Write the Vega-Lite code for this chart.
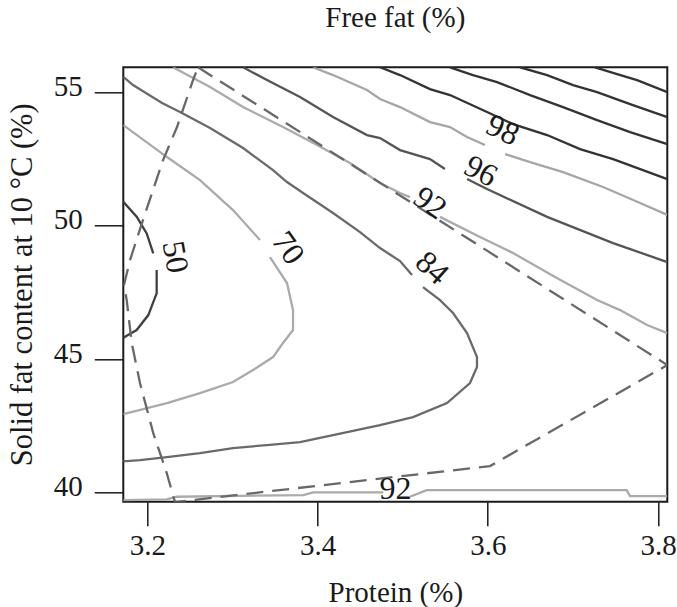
{
  "$schema": "https://vega.github.io/schema/vega-lite/v6.json",
  "width": 544,
  "height": 434.4,
  "autosize": "none",
  "padding": {"left": 123.3, "top": 67.3, "right": 9.7, "bottom": 105.3},
  "background": "white",
  "config": {
    "font": "Liberation Serif",
    "view": {"stroke": "#1a1a1a", "strokeWidth": 2}
  },
  "title": {
    "text": "Free fat (%)",
    "anchor": "middle",
    "frame": "group",
    "fontSize": 29,
    "fontWeight": "normal",
    "font": "Liberation Serif",
    "color": "#1a1a1a",
    "baseline": "alphabetic",
    "offset": 11
  },
  "datasets": {
    "contours": [
      {"level": "u4", "segment": "u4", "protein": 3.7260, "sfc": 55.94},
      {"level": "u4", "segment": "u4", "protein": 3.7519, "sfc": 55.686},
      {"level": "u4", "segment": "u4", "protein": 3.7754, "sfc": 55.461},
      {"level": "u4", "segment": "u4", "protein": 3.8109, "sfc": 55.011},

      {"level": "u3", "segment": "u3", "protein": 3.6379, "sfc": 55.94},
      {"level": "u3", "segment": "u3", "protein": 3.6697, "sfc": 55.649},
      {"level": "u3", "segment": "u3", "protein": 3.7002, "sfc": 55.274},
      {"level": "u3", "segment": "u3", "protein": 3.7284, "sfc": 55.011},
      {"level": "u3", "segment": "u3", "protein": 3.7672, "sfc": 54.561},
      {"level": "u3", "segment": "u3", "protein": 3.8109, "sfc": 54.074},

      {"level": "u2", "segment": "u2", "protein": 3.5556, "sfc": 55.94},
      {"level": "u2", "segment": "u2", "protein": 3.5826, "sfc": 55.649},
      {"level": "u2", "segment": "u2", "protein": 3.6109, "sfc": 55.386},
      {"level": "u2", "segment": "u2", "protein": 3.6497, "sfc": 54.899},
      {"level": "u2", "segment": "u2", "protein": 3.6884, "sfc": 54.449},
      {"level": "u2", "segment": "u2", "protein": 3.7284, "sfc": 53.961},
      {"level": "u2", "segment": "u2", "protein": 3.7672, "sfc": 53.511},
      {"level": "u2", "segment": "u2", "protein": 3.8109, "sfc": 53.061},

      {"level": "u1", "segment": "u1", "protein": 3.4734, "sfc": 55.94},
      {"level": "u1", "segment": "u1", "protein": 3.4969, "sfc": 55.649},
      {"level": "u1", "segment": "u1", "protein": 3.5321, "sfc": 55.124},
      {"level": "u1", "segment": "u1", "protein": 3.5556, "sfc": 54.899},
      {"level": "u1", "segment": "u1", "protein": 3.5991, "sfc": 54.261},
      {"level": "u1", "segment": "u1", "protein": 3.6297, "sfc": 53.811},
      {"level": "u1", "segment": "u1", "protein": 3.6697, "sfc": 53.399},
      {"level": "u1", "segment": "u1", "protein": 3.7084, "sfc": 52.874},
      {"level": "u1", "segment": "u1", "protein": 3.7472, "sfc": 52.499},
      {"level": "u1", "segment": "u1", "protein": 3.8109, "sfc": 51.749},

      {"level": "98", "segment": "98a", "protein": 3.3947, "sfc": 55.94},
      {"level": "98", "segment": "98a", "protein": 3.4182, "sfc": 55.649},
      {"level": "98", "segment": "98a", "protein": 3.4581, "sfc": 55.086},
      {"level": "98", "segment": "98a", "protein": 3.4734, "sfc": 54.749},
      {"level": "98", "segment": "98a", "protein": 3.4969, "sfc": 54.449},
      {"level": "98", "segment": "98a", "protein": 3.5321, "sfc": 53.886},
      {"level": "98", "segment": "98a", "protein": 3.5556, "sfc": 53.699},
      {"level": "98", "segment": "98a", "protein": 3.5756, "sfc": 53.324},
      {"level": "98", "segment": "98a", "protein": 3.5967, "sfc": 53.024},
      {"level": "98", "segment": "98b", "protein": 3.6203, "sfc": 52.686},
      {"level": "98", "segment": "98b", "protein": 3.6497, "sfc": 52.386},
      {"level": "98", "segment": "98b", "protein": 3.6884, "sfc": 52.011},
      {"level": "98", "segment": "98b", "protein": 3.7354, "sfc": 51.45},
      {"level": "98", "segment": "98b", "protein": 3.7789, "sfc": 50.849},
      {"level": "98", "segment": "98b", "protein": 3.8109, "sfc": 50.406},

      {"level": "96", "segment": "96a", "protein": 3.3125, "sfc": 55.94},
      {"level": "96", "segment": "96a", "protein": 3.3406, "sfc": 55.461},
      {"level": "96", "segment": "96a", "protein": 3.3794, "sfc": 54.824},
      {"level": "96", "segment": "96a", "protein": 3.4182, "sfc": 54.074},
      {"level": "96", "segment": "96a", "protein": 3.4581, "sfc": 53.399},
      {"level": "96", "segment": "96a", "protein": 3.4734, "sfc": 53.286},
      {"level": "96", "segment": "96a", "protein": 3.4969, "sfc": 52.836},
      {"level": "96", "segment": "96a", "protein": 3.5321, "sfc": 52.499},
      {"level": "96", "segment": "96a", "protein": 3.5497, "sfc": 52.124},
      {"level": "96", "segment": "96b", "protein": 3.5756, "sfc": 51.749},
      {"level": "96", "segment": "96b", "protein": 3.5991, "sfc": 51.374},
      {"level": "96", "segment": "96b", "protein": 3.6697, "sfc": 50.331},
      {"level": "96", "segment": "96b", "protein": 3.7472, "sfc": 49.349},
      {"level": "96", "segment": "96b", "protein": 3.8109, "sfc": 48.636},

      {"level": "92", "segment": "92a", "protein": 3.2302, "sfc": 55.94},
      {"level": "92", "segment": "92a", "protein": 3.2737, "sfc": 55.199},
      {"level": "92", "segment": "92a", "protein": 3.3125, "sfc": 54.449},
      {"level": "92", "segment": "92a", "protein": 3.3594, "sfc": 53.699},
      {"level": "92", "segment": "92a", "protein": 3.3994, "sfc": 53.024},
      {"level": "92", "segment": "92a", "protein": 3.4381, "sfc": 52.349},
      {"level": "92", "segment": "92a", "protein": 3.4734, "sfc": 51.599},
      {"level": "92", "segment": "92a", "protein": 3.4969, "sfc": 51.224},
      {"level": "92", "segment": "92a", "protein": 3.5086, "sfc": 51.07},
      {"level": "92", "segment": "92b", "protein": 3.5439, "sfc": 50.331},
      {"level": "92", "segment": "92b", "protein": 3.5908, "sfc": 49.574},
      {"level": "92", "segment": "92b", "protein": 3.6297, "sfc": 48.974},
      {"level": "92", "segment": "92b", "protein": 3.6790, "sfc": 48.074},
      {"level": "92", "segment": "92b", "protein": 3.7284, "sfc": 47.211},
      {"level": "92", "segment": "92b", "protein": 3.7554, "sfc": 46.836},
      {"level": "92", "segment": "92b", "protein": 3.7872, "sfc": 46.274},
      {"level": "92", "segment": "92b", "protein": 3.8109, "sfc": 45.974},

      {"level": "92", "segment": "92c", "protein": 3.1718, "sfc": 39.711},
      {"level": "92", "segment": "92c", "protein": 3.2228, "sfc": 39.738},
      {"level": "92", "segment": "92c", "protein": 3.2345, "sfc": 39.835},
      {"level": "92", "segment": "92c", "protein": 3.3833, "sfc": 39.899},
      {"level": "92", "segment": "92c", "protein": 3.3950, "sfc": 40.0},
      {"level": "92", "segment": "92c", "protein": 3.4773, "sfc": 40.0},
      {"level": "92", "segment": "92d", "protein": 3.5086, "sfc": 39.835},
      {"level": "92", "segment": "92d", "protein": 3.5282, "sfc": 40.086},
      {"level": "92", "segment": "92d", "protein": 3.7632, "sfc": 40.086},
      {"level": "92", "segment": "92d", "protein": 3.7671, "sfc": 39.861},
      {"level": "92", "segment": "92d", "protein": 3.8109, "sfc": 39.861},

      {"level": "84", "segment": "84a", "protein": 3.1718, "sfc": 55.585},
      {"level": "84", "segment": "84a", "protein": 3.1832, "sfc": 55.274},
      {"level": "84", "segment": "84a", "protein": 3.2173, "sfc": 54.599},
      {"level": "84", "segment": "84a", "protein": 3.2384, "sfc": 54.261},
      {"level": "84", "segment": "84a", "protein": 3.2737, "sfc": 53.661},
      {"level": "84", "segment": "84a", "protein": 3.3125, "sfc": 52.911},
      {"level": "84", "segment": "84a", "protein": 3.3477, "sfc": 52.086},
      {"level": "84", "segment": "84a", "protein": 3.3641, "sfc": 51.636},
      {"level": "84", "segment": "84a", "protein": 3.3830, "sfc": 51.224},
      {"level": "84", "segment": "84a", "protein": 3.4182, "sfc": 50.474},
      {"level": "84", "segment": "84a", "protein": 3.4499, "sfc": 49.761},
      {"level": "84", "segment": "84a", "protein": 3.4734, "sfc": 49.161},
      {"level": "84", "segment": "84a", "protein": 3.4969, "sfc": 48.674},
      {"level": "84", "segment": "84a", "protein": 3.5110, "sfc": 48.149},
      {"level": "84", "segment": "84b", "protein": 3.5239, "sfc": 47.699},
      {"level": "84", "segment": "84b", "protein": 3.5439, "sfc": 47.211},
      {"level": "84", "segment": "84b", "protein": 3.5592, "sfc": 46.724},
      {"level": "84", "segment": "84b", "protein": 3.5756, "sfc": 45.974},
      {"level": "84", "segment": "84b", "protein": 3.5873, "sfc": 45.074},
      {"level": "84", "segment": "84b", "protein": 3.5873, "sfc": 44.699},
      {"level": "84", "segment": "84b", "protein": 3.5791, "sfc": 44.099},
      {"level": "84", "segment": "84b", "protein": 3.5521, "sfc": 43.349},
      {"level": "84", "segment": "84b", "protein": 3.5122, "sfc": 42.824},
      {"level": "84", "segment": "84b", "protein": 3.4734, "sfc": 42.524},
      {"level": "84", "segment": "84b", "protein": 3.4182, "sfc": 42.149},
      {"level": "84", "segment": "84b", "protein": 3.3794, "sfc": 41.886},
      {"level": "84", "segment": "84b", "protein": 3.3406, "sfc": 41.774},
      {"level": "84", "segment": "84b", "protein": 3.3007, "sfc": 41.661},
      {"level": "84", "segment": "84b", "protein": 3.2619, "sfc": 41.474},
      {"level": "84", "segment": "84b", "protein": 3.2231, "sfc": 41.324},
      {"level": "84", "segment": "84b", "protein": 3.1914, "sfc": 41.211},
      {"level": "84", "segment": "84b", "protein": 3.1761, "sfc": 41.174},
      {"level": "84", "segment": "84b", "protein": 3.1718, "sfc": 41.174},

      {"level": "70", "segment": "70a", "protein": 3.1718, "sfc": 53.774},
      {"level": "70", "segment": "70a", "protein": 3.2231, "sfc": 52.574},
      {"level": "70", "segment": "70a", "protein": 3.2619, "sfc": 51.711},
      {"level": "70", "segment": "70a", "protein": 3.3007, "sfc": 50.586},
      {"level": "70", "segment": "70a", "protein": 3.3324, "sfc": 49.461},
      {"level": "70", "segment": "70b", "protein": 3.3441, "sfc": 48.824},
      {"level": "70", "segment": "70b", "protein": 3.3641, "sfc": 47.849},
      {"level": "70", "segment": "70b", "protein": 3.3712, "sfc": 46.836},
      {"level": "70", "segment": "70b", "protein": 3.3712, "sfc": 46.086},
      {"level": "70", "segment": "70b", "protein": 3.3594, "sfc": 45.599},
      {"level": "70", "segment": "70b", "protein": 3.3477, "sfc": 45.074},
      {"level": "70", "segment": "70b", "protein": 3.3242, "sfc": 44.586},
      {"level": "70", "segment": "70b", "protein": 3.3007, "sfc": 44.136},
      {"level": "70", "segment": "70b", "protein": 3.2619, "sfc": 43.724},
      {"level": "70", "segment": "70b", "protein": 3.2231, "sfc": 43.349},
      {"level": "70", "segment": "70b", "protein": 3.1718, "sfc": 42.936},

      {"level": "50", "segment": "50a", "protein": 3.1718, "sfc": 50.897},
      {"level": "50", "segment": "50a", "protein": 3.1875, "sfc": 50.335},
      {"level": "50", "segment": "50a", "protein": 3.1993, "sfc": 49.712},
      {"level": "50", "segment": "50a", "protein": 3.2070, "sfc": 48.962},
      {"level": "50", "segment": "50b", "protein": 3.2110, "sfc": 48.336},
      {"level": "50", "segment": "50b", "protein": 3.2110, "sfc": 47.462},
      {"level": "50", "segment": "50b", "protein": 3.2070, "sfc": 47.136},
      {"level": "50", "segment": "50b", "protein": 3.2012, "sfc": 46.649},
      {"level": "50", "segment": "50b", "protein": 3.1875, "sfc": 46.086},
      {"level": "50", "segment": "50b", "protein": 3.1738, "sfc": 45.835},
      {"level": "50", "segment": "50b", "protein": 3.1718, "sfc": 45.786}
    ],
    "boundary": [
      {"protein": 3.2596, "sfc": 55.94},
      {"protein": 3.8109, "sfc": 44.774},
      {"protein": 3.6026, "sfc": 40.986},
      {"protein": 3.2325, "sfc": 39.636},
      {"protein": 3.2228, "sfc": 40.724},
      {"protein": 3.2070, "sfc": 42.224},
      {"protein": 3.1914, "sfc": 44.099},
      {"protein": 3.1817, "sfc": 45.599},
      {"protein": 3.1758, "sfc": 47.211},
      {"protein": 3.1726, "sfc": 47.774},
      {"protein": 3.1797, "sfc": 48.711},
      {"protein": 3.1949, "sfc": 50.211},
      {"protein": 3.2185, "sfc": 52.461},
      {"protein": 3.2349, "sfc": 53.699},
      {"protein": 3.2537, "sfc": 55.461},
      {"protein": 3.2596, "sfc": 55.94}
    ],
    "labels": [
      {"name": "98", "text": "98", "protein": 3.6176, "sfc": 53.586},
      {"name": "96", "text": "96", "protein": 3.5918, "sfc": 52.049},
      {"name": "92 upper", "text": "92", "protein": 3.5321, "sfc": 50.849},
      {"name": "84", "text": "84", "protein": 3.5345, "sfc": 48.411},
      {"name": "70", "text": "70", "protein": 3.3653, "sfc": 49.161},
      {"name": "50", "text": "50", "protein": 3.2326, "sfc": 48.824},
      {"name": "92 lower", "text": "92", "protein": 3.4915, "sfc": 40.142}
    ]
  },
  "encoding": {
    "x": {
      "field": "protein",
      "type": "quantitative",
      "scale": {"domain": [3.1718, 3.8109], "nice": false, "zero": false},
      "axis": {
        "values": [3.2, 3.4, 3.6, 3.8],
        "format": ".1f",
        "domain": false,
        "grid": false,
        "tickSize": 24,
        "tickWidth": 1.5,
        "tickColor": "#1a1a1a",
        "labelFont": "Liberation Serif",
        "labelFontSize": 29,
        "labelColor": "#1a1a1a",
        "labelBaseline": "alphabetic",
        "labelPadding": 29,
        "labelFlush": false,
        "labelOverlap": false,
        "labelBound": false,
        "title": "Protein (%)",
        "titleFont": "Liberation Serif",
        "titleFontSize": 29,
        "titleFontWeight": "normal",
        "titleColor": "#1a1a1a",
        "titleBaseline": "alphabetic",
        "titleAlign": "center",
        "titleX": 272,
        "titleY": 99.7
      }
    },
    "y": {
      "field": "sfc",
      "type": "quantitative",
      "scale": {"domain": [39.65, 55.94], "nice": false, "zero": false},
      "axis": {
        "values": [40, 45, 50, 55],
        "format": "d",
        "domain": false,
        "grid": false,
        "tickSize": 29,
        "tickWidth": 1.5,
        "tickColor": "#1a1a1a",
        "labelFont": "Liberation Serif",
        "labelFontSize": 29,
        "labelColor": "#1a1a1a",
        "labelBaseline": "alphabetic",
        "labelOffset": 3,
        "labelPadding": 12,
        "labelFlush": false,
        "labelOverlap": false,
        "labelBound": false,
        "title": "Solid fat content at 10 °C (%)",
        "titleFont": "Liberation Serif",
        "titleFontSize": 30.5,
        "titleFontWeight": "normal",
        "titleColor": "#1a1a1a",
        "titleAngle": -90,
        "titleBaseline": "alphabetic",
        "titleAlign": "center",
        "titleX": -92,
        "titleY": 217
      }
    }
  },
  "layer": [
    {
      "data": {"name": "contours"},
      "mark": {"type": "line", "strokeWidth": 2.3, "clip": true},
      "encoding": {
        "color": {
          "field": "level",
          "type": "nominal",
          "scale": {
            "domain": ["u4", "u3", "u2", "u1", "98", "96", "92", "84", "70", "50"],
            "range": ["#333333", "#333333", "#333333", "#333333", "#a6a6a6", "#555555", "#aaaaaa", "#6a6a6a", "#aaaaaa", "#404040"]
          },
          "legend": null
        },
        "detail": {"field": "segment"},
        "order": {"value": null}
      }
    },
    {
      "data": {"name": "boundary"},
      "mark": {"type": "line", "strokeWidth": 2.3, "color": "#686868", "strokeDash": [17, 9], "clip": true},
      "encoding": {"order": {"value": null}}
    },
    {
      "data": {"name": "labels"},
      "transform": [{"filter": "datum.name === '98'"}],
      "mark": {"type": "text", "angle": 25, "fontSize": 32, "font": "Liberation Serif", "color": "#1a1a1a", "align": "center", "baseline": "middle"},
      "encoding": {"text": {"field": "text"}}
    },
    {
      "data": {"name": "labels"},
      "transform": [{"filter": "datum.name === '96'"}],
      "mark": {"type": "text", "angle": 28, "fontSize": 32, "font": "Liberation Serif", "color": "#1a1a1a", "align": "center", "baseline": "middle"},
      "encoding": {"text": {"field": "text"}}
    },
    {
      "data": {"name": "labels"},
      "transform": [{"filter": "datum.name === '92 upper'"}],
      "mark": {"type": "text", "angle": 35, "fontSize": 32, "font": "Liberation Serif", "color": "#1a1a1a", "align": "center", "baseline": "middle"},
      "encoding": {"text": {"field": "text"}}
    },
    {
      "data": {"name": "labels"},
      "transform": [{"filter": "datum.name === '84'"}],
      "mark": {"type": "text", "angle": 42, "fontSize": 32, "font": "Liberation Serif", "color": "#1a1a1a", "align": "center", "baseline": "middle"},
      "encoding": {"text": {"field": "text"}}
    },
    {
      "data": {"name": "labels"},
      "transform": [{"filter": "datum.name === '70'"}],
      "mark": {"type": "text", "angle": 55, "fontSize": 32, "font": "Liberation Serif", "color": "#1a1a1a", "align": "center", "baseline": "middle"},
      "encoding": {"text": {"field": "text"}}
    },
    {
      "data": {"name": "labels"},
      "transform": [{"filter": "datum.name === '50'"}],
      "mark": {"type": "text", "angle": 80, "fontSize": 32, "font": "Liberation Serif", "color": "#1a1a1a", "align": "center", "baseline": "middle"},
      "encoding": {"text": {"field": "text"}}
    },
    {
      "data": {"name": "labels"},
      "transform": [{"filter": "datum.name === '92 lower'"}],
      "mark": {"type": "text", "angle": 0, "fontSize": 32, "font": "Liberation Serif", "color": "#1a1a1a", "align": "center", "baseline": "middle"},
      "encoding": {"text": {"field": "text"}}
    }
  ]
}
